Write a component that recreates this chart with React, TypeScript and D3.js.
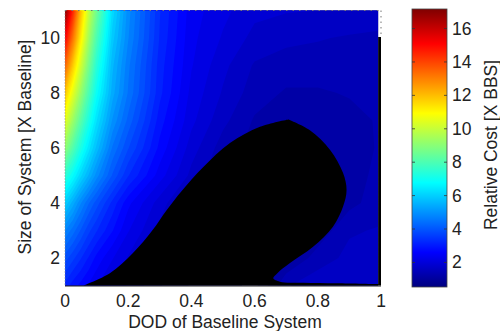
import React from 'react';
import * as d3 from 'd3';

// Grid of the cost field
const xGrid = [0, 0.025, 0.05, 0.075, 0.1, 0.15, 0.2, 0.3, 0.4, 0.5, 0.6, 0.7, 0.8, 0.9, 0.991];
const yGrid = [1, 2, 3, 4, 5, 6, 7, 8, 9, 10, 11];
// one row per yGrid value (y = 1 first)
const costRows = [
  [3.2, 2.9, 2.7, 2.5, 2.3, 2.0, 1.75, 1.3, 1.0, 0.9, 0.7, 1.5, 1.7, 1.75, 1.75],
  [3.9, 3.6, 3.3, 3.0, 2.7, 2.3, 2.0, 1.5, 1.2, 1.0, 0.8, 1.0, 1.4, 1.6, 1.65],
  [4.8, 4.4, 4.0, 3.6, 3.3, 2.8, 2.3, 1.7, 1.3, 1.1, 0.85, 0.8, 1.1, 1.5, 1.55],
  [6.0, 5.4, 4.8, 4.3, 3.9, 3.2, 2.6, 1.9, 1.4, 1.2, 0.9, 0.8, 0.85, 1.2, 1.4],
  [7.5, 6.8, 6.1, 5.5, 4.9, 4.0, 3.3, 2.4, 1.7, 1.3, 1.0, 0.9, 0.9, 1.15, 1.35],
  [9.1, 8.1, 7.2, 6.4, 5.7, 4.5, 3.8, 2.7, 1.9, 1.4, 1.2, 1.0, 1.0, 1.15, 1.3],
  [10.5, 9.3, 8.2, 7.2, 6.3, 5.0, 4.2, 2.9, 2.1, 1.6, 1.25, 1.1, 1.1, 1.2, 1.3],
  [11.9, 10.5, 9.2, 8.0, 6.9, 5.4, 4.5, 3.1, 2.2, 1.75, 1.4, 1.25, 1.25, 1.3, 1.35],
  [13.5, 11.8, 10.2, 8.7, 7.4, 5.6, 4.6, 3.15, 2.3, 1.85, 1.5, 1.4, 1.4, 1.4, 1.4],
  [15.2, 13.2, 11.2, 9.4, 8.0, 5.9, 4.8, 3.25, 2.35, 2.0, 1.7, 1.6, 1.55, 1.5, 1.45],
  [17.1, 14.5, 12.0, 10.0, 8.6, 6.2, 4.9, 3.3, 2.4, 2.1, 1.85, 1.8, 1.78, 1.75, 1.75],
];

// Infeasible (black) region outline, data units
const blackLeftEdge: [number, number][] = [
  [0.058, 1], [0.142, 1.45], [0.215, 2.18], [0.276, 3.0], [0.322, 3.75], [0.37, 4.45],
  [0.437, 5.3], [0.522, 6.18], [0.617, 6.77], [0.707, 7.04],
];
const blackRightEdge: [number, number][] = [
  [0.707, 7.04], [0.775, 6.65], [0.839, 5.93], [0.88, 5.09], [0.891, 4.47], [0.88, 3.87],
  [0.848, 3.14], [0.785, 2.41], [0.712, 1.82], [0.672, 1.45], [0.659, 1.26], [0.68, 1.14],
  [0.754, 1.1], [0.86, 1.08], [0.991, 1.05],
];
const blackStripTop = 10.04;
const dataRightEdge = 0.991;

const xTicks = [0, 0.2, 0.4, 0.6, 0.8, 1];
const yTicks = [2, 4, 6, 8, 10];
const cbTicks = [2, 4, 6, 8, 10, 12, 14, 16];
const cRange = [0.53, 17.17];

const FONT = '"Liberation Sans", Arial, Helvetica, sans-serif';

function jet(t: number): string {
  const c = (v: number) => Math.max(0, Math.min(1, v));
  const r = c(1.5 - Math.abs(4 * t - 3));
  const g = c(1.5 - Math.abs(4 * t - 2));
  const b = c(1.5 - Math.abs(4 * t - 1));
  return d3.rgb(r * 255, g * 255, b * 255).formatHex();
}

export default function App() {
  const W = 500, H = 331;
  const xScale = d3.scaleLinear().domain([0, 1]).range([65, 381]);
  const yScale = d3.scaleLinear().domain([1, 11]).range([285.5, 10.5]);
  const [cMin, cMax] = cRange;
  const cNorm = d3.scaleLinear().domain([cMin, cMax]).range([0, 1]).clamp(true);

  const nx = xGrid.length, ny = yGrid.length;
  const values = costRows.flat();
  const step = 0.25;
  const thresholds = d3.range(cMin, cMax, step);
  const bands = d3.contours().size([nx, ny]).thresholds(thresholds)(values);
  const gx = d3.scaleLinear().domain(d3.range(nx)).range(xGrid).clamp(true);
  const gy = d3.scaleLinear().domain(d3.range(ny)).range(yGrid).clamp(true);
  const proj = d3.geoTransform({
    point(px: number, py: number) {
      (this as any).stream.point(xScale(gx(px - 0.5)), yScale(gy(py - 0.5)));
    },
  });
  const geo = d3.geoPath(proj);

  const line = d3.line<[number, number]>()
    .x((d) => xScale(d[0]))
    .y((d) => yScale(d[1]))
    .curve(d3.curveCatmullRom.alpha(0.5));
  const leftD = line(blackLeftEdge) || '';
  const rightD = (line(blackRightEdge) || '').replace(/^M/, 'L');
  const blackD =
    leftD + rightD +
    `L${xScale(dataRightEdge)},${yScale(blackStripTop)}` +
    `L${xScale(1)},${yScale(blackStripTop)}` +
    `L${xScale(1)},${yScale(1)}` +
    `L${xScale(0)},${yScale(1)}Z`;

  const cbScale = d3.scaleLinear().domain([cMin, cMax]).range([287, 9]);
  const cbX = 412, cbW = 35;
  const gradStops = d3.range(0, 1.0001, 1 / 64);

  const px0 = xScale(0), px1 = xScale(1), pyT = yScale(11), pyB = yScale(1);
  const fs = 17.5;

  return (
    <svg width={W} height={H} style={{ position: 'absolute', left: 0, top: 0, background: '#fff' }}
      fontFamily={FONT}>
      <defs>
        <clipPath id="plotClip">
          <rect x={px0} y={pyT} width={xScale(dataRightEdge) - px0} height={pyB - pyT} />
        </clipPath>
        <linearGradient id="jetGrad" x1="0" y1="1" x2="0" y2="0">
          {gradStops.map((t, i) => (
            <stop key={i} offset={t} stopColor={jet(t)} />
          ))}
        </linearGradient>
      </defs>

      <g clipPath="url(#plotClip)">
        <rect x={px0} y={pyT} width={px1 - px0} height={pyB - pyT} fill={jet(0)} />
        {bands.map((b, i) => (
          <path key={i} d={geo(b as any) || ''} fill={jet(cNorm(b.value + step / 2))} stroke="none" />
        ))}
      </g>
      <path d={blackD} fill="#000" />

      {/* frame */}
      <line x1={px0} x2={px1} y1={pyT} y2={pyT} stroke="#777" strokeWidth={1} strokeDasharray="1.5,5" />
      <line x1={px1} x2={px1} y1={pyT} y2={yScale(blackStripTop)} stroke="#777" strokeWidth={1} strokeDasharray="1.5,4" />
      <line x1={px0} x2={px0} y1={pyT} y2={pyB} stroke="#888" strokeWidth={1} strokeDasharray="1,2" />
      <line x1={px0} x2={px1} y1={pyB + 0.5} y2={pyB + 0.5} stroke="#222" strokeWidth={1.2} />

      {xTicks.map((t) => (
        <text key={t} x={xScale(t)} y={307} fontSize={fs} textAnchor="middle" fill="#222">{t}</text>
      ))}
      {yTicks.map((t) => (
        <text key={t} x={60} y={yScale(t) + 6} fontSize={fs} textAnchor="end" fill="#222">{t}</text>
      ))}
      <text x={225} y={328} fontSize={fs} textAnchor="middle" fill="#222">DOD of Baseline System</text>
      <text transform={`translate(31,147) rotate(-90)`} fontSize={fs} textAnchor="middle" fill="#222">
        Size of System [X Baseline]
      </text>

      {/* colorbar */}
      <rect x={cbX} y={cbScale(cMax)} width={cbW} height={cbScale(cMin) - cbScale(cMax)} fill="url(#jetGrad)"
        stroke="#444" strokeWidth={0.8} />
      {cbTicks.map((t) => (
        <g key={t}>
          <line x1={cbX} x2={cbX + 3} y1={cbScale(t)} y2={cbScale(t)} stroke="#333" strokeWidth={0.8} />
          <line x1={cbX + cbW - 3} x2={cbX + cbW} y1={cbScale(t)} y2={cbScale(t)} stroke="#333" strokeWidth={0.8} />
          <text x={452} y={cbScale(t) + 6} fontSize={fs} fill="#222">{t}</text>
        </g>
      ))}
      <text transform={`translate(497,145) rotate(-90)`} fontSize={fs} textAnchor="middle" fill="#222">
        Relative Cost [X BBS]
      </text>
    </svg>
  );
}
